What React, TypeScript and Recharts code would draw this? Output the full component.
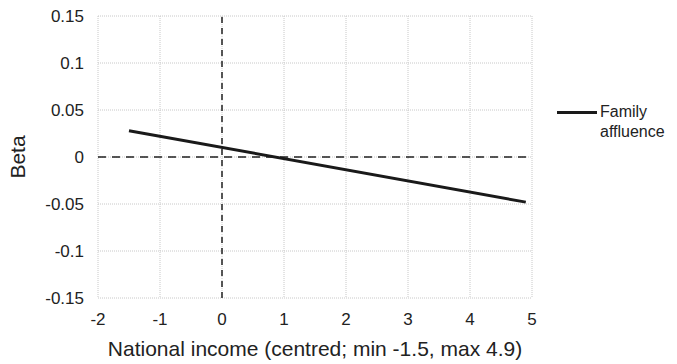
import { LineChart, Line, XAxis, YAxis, CartesianGrid, ReferenceLine, Label } from "recharts";

// Predicted beta for family affluence across centred national income
const incomeX = [-1.5, 4.9];
const familyAffluence = [0.028, -0.048];
const xTicks = [-2, -1, 0, 1, 2, 3, 4, 5];
const yTicks = [-0.15, -0.1, -0.05, 0, 0.05, 0.1, 0.15];

const data = incomeX.map((x, i) => ({ x, fa: familyAffluence[i] }));

const FONT = "'Liberation Sans', Arial, sans-serif";

function LegendBox() {
  return (
    <div style={{ position: "absolute", left: 557, top: 102, display: "flex", alignItems: "flex-start", fontFamily: FONT, fontSize: 16, color: "#222", lineHeight: "20px" }}>
      <div style={{ width: 40, height: 3, background: "#1a1a1a", marginTop: 9, marginRight: 3 }} />
      <div>Family<br />affluence</div>
    </div>
  );
}

export default function App() {
  return (
    <div style={{ position: "absolute", left: 0, top: 0, width: 677, height: 364, background: "#fff" }}>
      <LineChart width={677} height={364} data={data} margin={{ top: 16, right: 145, bottom: 0, left: 0 }}>
        <CartesianGrid stroke="#c8c8c8" strokeDasharray="1 1" />
        <XAxis
          dataKey="x"
          type="number"
          domain={[-2, 5]}
          ticks={xTicks}
          axisLine={false}
          tickLine={false}
          tickMargin={9}
          height={66}
          tick={{ fontSize: 17, fill: "#222", fontFamily: FONT }}
        >
          <Label value="National income (centred; min -1.5, max 4.9)" position="insideBottom" offset={8} style={{ fontSize: 21, fill: "#222", fontFamily: FONT }} />
        </XAxis>
        <YAxis
          type="number"
          domain={[-0.15, 0.15]}
          ticks={yTicks}
          axisLine={false}
          tickLine={false}
          tickMargin={8}
          width={98}
          tickFormatter={(v: number) => String(Math.round(v * 100) / 100)}
          tick={{ fontSize: 17, fill: "#222", fontFamily: FONT }}
        >
          <Label value="Beta" angle={-90} position="insideLeft" offset={18} style={{ fontSize: 21, fill: "#222", fontFamily: FONT, textAnchor: "middle" }} />
        </YAxis>
        <ReferenceLine x={0} stroke="#222" strokeDasharray="6 5" strokeWidth={1.5} />
        <ReferenceLine y={0} stroke="#222" strokeDasharray="8 6" strokeWidth={1.5} />
        <Line dataKey="fa" name="Family affluence" stroke="#1a1a1a" strokeWidth={3} dot={false} isAnimationActive={false} />
      </LineChart>
      <LegendBox />
    </div>
  );
}
